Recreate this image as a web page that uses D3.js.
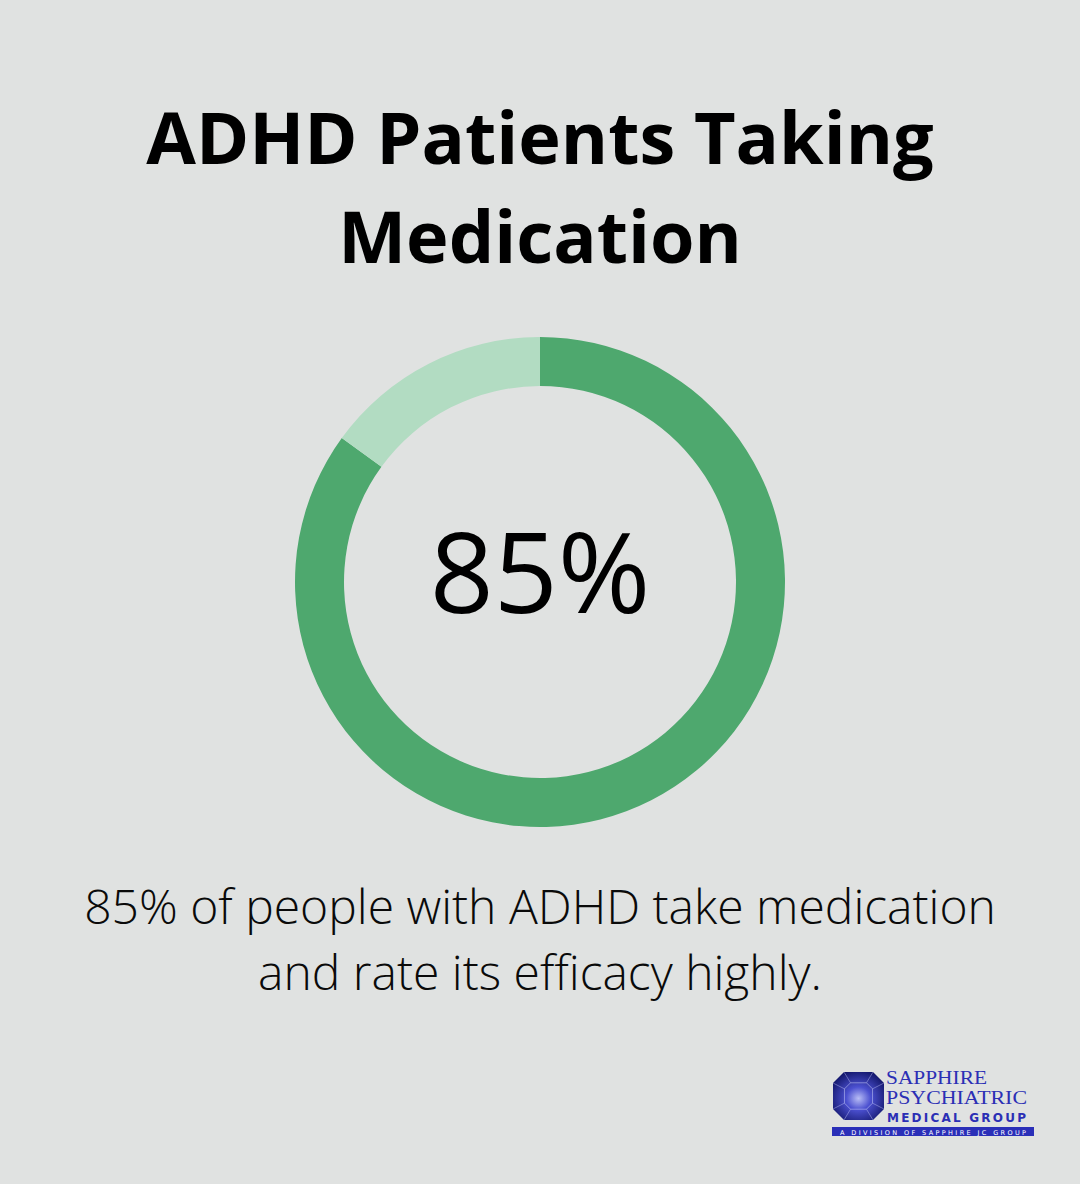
<!DOCTYPE html>
<html><head><meta charset="utf-8">
<script src="https://cdn.jsdelivr.net/npm/d3@7"></script>
<style>
html,body{margin:0;padding:0;background:#e0e2e1;}
svg{display:block;}
</style></head>
<body>
<svg id="chart" width="1080" height="1184"></svg>
<script>
const titleLines = ["ADHD Patients Taking", "Medication"];
const categories = ["Take medication", "Other"];
const values = [85, 15];
const centerLabel = "85%";
const captionLines = ["85% of people with ADHD take medication", "and rate its efficacy highly."];
const colors = ["#4ea86e", "#b2dcc2"];

const svg = d3.select("#chart");
svg.append("rect").attr("width",1080).attr("height",1184).attr("fill","#e0e2e1");

svg.selectAll("text.title").data(titleLines).join("text")
  .attr("class","title")
  .attr("x",540).attr("y",(d,i)=>164+i*99)
  .attr("text-anchor","middle")
  .attr("font-family","'Open Sans', sans-serif")
  .attr("font-weight",700).attr("font-size",72)
  .attr("fill","#000").text(d=>d);

const pie = d3.pie().sort(null).value(d=>d);
const arc = d3.arc().innerRadius(196).outerRadius(245);
const g = svg.append("g").attr("transform","translate(540,582)");
g.selectAll("path").data(pie(values)).join("path")
  .attr("d",arc).attr("fill",(d,i)=>colors[i]);

g.append("text").attr("x",0).attr("y",31)
  .attr("text-anchor","middle")
  .attr("font-family","'Open Sans', sans-serif")
  .attr("font-weight",400).attr("font-size",112)
  .attr("fill","#000").text(centerLabel);

svg.selectAll("text.cap").data(captionLines).join("text")
  .attr("class","cap")
  .attr("x",540).attr("y",(d,i)=>924+i*66)
  .attr("text-anchor","middle")
  .attr("font-family","'Open Sans', sans-serif")
  .attr("font-weight",300).attr("font-size",48)
  .attr("fill","#0a0a0a").text(d=>d);

// Logo
const logo = svg.append("g");
const defs = svg.append("defs");
const grad = defs.append("radialGradient").attr("id","gem").attr("cx","50%").attr("cy","55%").attr("r","60%");
grad.append("stop").attr("offset","0%").attr("stop-color","#b8bdf5");
grad.append("stop").attr("offset","40%").attr("stop-color","#4b50d0");
grad.append("stop").attr("offset","100%").attr("stop-color","#12166a");
const x0=833, y0=1072, w=51, h=48, c=11;
const pts = [[x0+c,y0],[x0+w-c,y0],[x0+w,y0+c],[x0+w,y0+h-c],[x0+w-c,y0+h],[x0+c,y0+h],[x0,y0+h-c],[x0,y0+c]];
logo.append("polygon").attr("points",pts.map(p=>p.join(",")).join(" ")).attr("fill","url(#gem)");
const cx=x0+w/2, cy=y0+h/2;
const inner = pts.map(p=>[cx+(p[0]-cx)*0.55, cy+(p[1]-cy)*0.55]);
logo.append("polygon").attr("points",inner.map(p=>p.join(",")).join(" ")).attr("fill","none").attr("stroke","#d8dbff").attr("stroke-width",0.8).attr("opacity",0.6);
pts.forEach((p,i)=>logo.append("line").attr("x1",p[0]).attr("y1",p[1]).attr("x2",inner[i][0]).attr("y2",inner[i][1]).attr("stroke","#c8ccff").attr("stroke-width",0.7).attr("opacity",0.6));

logo.append("text").attr("x",886).attr("y",1084).attr("font-family","'Liberation Serif', serif").attr("font-size",18).attr("fill","#2b2fb5").attr("textLength",101).attr("lengthAdjust","spacingAndGlyphs").text("SAPPHIRE");
logo.append("text").attr("x",886).attr("y",1104).attr("font-family","'Liberation Serif', serif").attr("font-size",18).attr("fill","#2b2fb5").attr("textLength",141).attr("lengthAdjust","spacingAndGlyphs").text("PSYCHIATRIC");
logo.append("text").attr("x",887).attr("y",1122).attr("font-family","'DejaVu Sans', sans-serif").attr("font-weight",700).attr("font-size",12).attr("fill","#2b2fb5").attr("textLength",139).attr("lengthAdjust","spacing").text("MEDICAL GROUP");
logo.append("rect").attr("x",832).attr("y",1127).attr("width",202).attr("height",9).attr("fill","#2a2fb8");
logo.append("text").attr("x",840).attr("y",1134.5).attr("font-family","'DejaVu Sans', sans-serif").attr("font-size",6.5).attr("fill","#fff").attr("textLength",186).attr("lengthAdjust","spacing").text("A DIVISION OF SAPPHIRE JC GROUP");
</script>
</body></html>
